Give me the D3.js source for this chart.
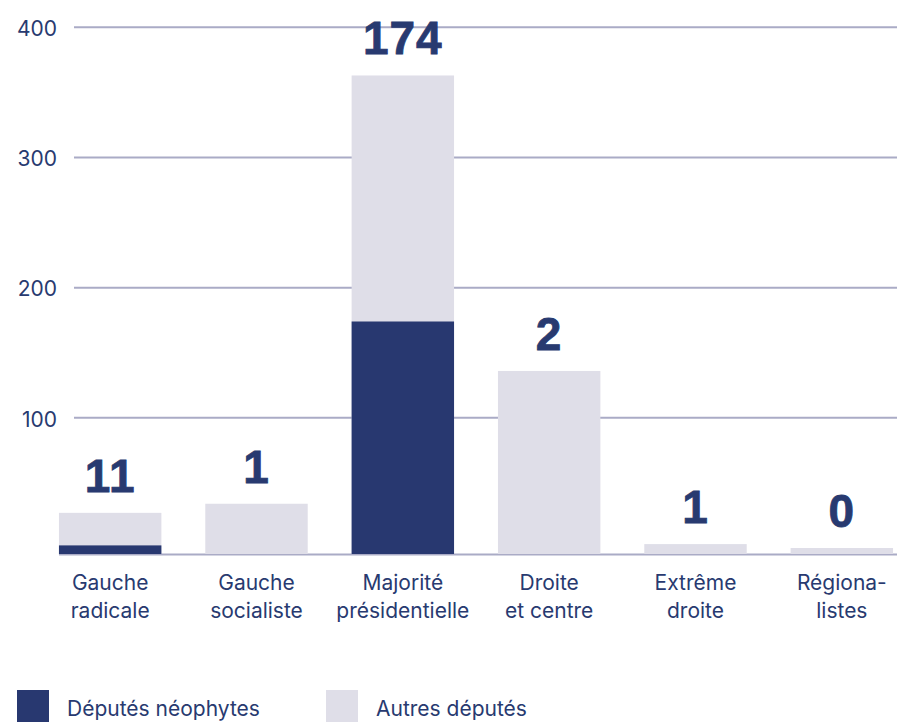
<!DOCTYPE html>
<meta charset="utf-8">
<head>
  <title>Députés néophytes par groupe</title>
</head>

<style>
body {
  margin: 0;
  background: #fff;
}
text {
  fill: #283a70;
  font-family: Inter, "Noto Sans", sans-serif;
}
.value {
  font-family: "Liberation Sans", Arial, sans-serif;
  font-weight: bold;
  stroke: #283a70;
  stroke-width: 0.8px;
  letter-spacing: 1px;
}
</style>

<body>
  <svg width="897" height="724"></svg>

  <script src="https://cdn.jsdelivr.net/npm/d3@7"></script>

  <script>
// groups, two lines each
var categories = [
  ['Gauche', 'radicale'],
  ['Gauche', 'socialiste'],
  ['Majorité', 'présidentielle'],
  ['Droite', 'et centre'],
  ['Extrême', 'droite'],
  ['Régiona-', 'listes']
];
// total height of each bar (all deputies)
var totals = [27, 34, 363, 136, 3, 0];
// dark part of the bar as drawn
var neoBar = [2, 0, 174, 0, 0, 0];
// number printed above each bar
var neoCounts = [11, 1, 174, 2, 1, 0];
var yTicks = [100, 200, 300, 400];
var legendItems = ['Députés néophytes', 'Autres députés'];

var dark = '#283870', light = '#dfdee8', grid = '#aaabc6';
var baseY = 554;

var svg = d3.select('svg');

var x = d3.scaleBand()
  .domain(d3.range(categories.length))
  .range([37, 915])
  .paddingInner(0.3)
  .paddingOuter(0.15);

var y = d3.scaleLinear().domain([0, 400]).range([548, 27.3]);

// gridlines
svg.append('g').selectAll('line')
  .data(yTicks)
  .enter().append('line')
  .attr('x1', 74).attr('x2', 897)
  .attr('y1', function(d) { return y(d); })
  .attr('y2', function(d) { return y(d); })
  .attr('stroke', grid).attr('stroke-width', 2);

svg.append('g').selectAll('text')
  .data(yTicks)
  .enter().append('text')
  .attr('x', 57)
  .attr('y', function(d) { return y(d) + 3; })
  .attr('text-anchor', 'end')
  .attr('dominant-baseline', 'middle')
  .style('font-size', '21px')
  .text(function(d) { return d; });

// baseline
svg.append('line')
  .attr('x1', x(0)).attr('x2', 897)
  .attr('y1', baseY + 0.5).attr('y2', baseY + 0.5)
  .attr('stroke', grid).attr('stroke-width', 2);

// bars: total first, then the dark part over it
var bars = svg.append('g');
bars.selectAll('rect.total')
  .data(totals)
  .enter().append('rect')
  .attr('class', 'total')
  .attr('x', function(d, i) { return x(i); })
  .attr('width', x.bandwidth())
  .attr('y', function(d) { return y(d); })
  .attr('height', function(d) { return baseY - y(d); })
  .attr('fill', light);

bars.selectAll('rect.neo')
  .data(neoBar)
  .enter().append('rect')
  .attr('class', 'neo')
  .attr('x', function(d, i) { return x(i); })
  .attr('width', x.bandwidth())
  .attr('y', function(d) { return y(d); })
  .attr('height', function(d) { return d > 0 ? baseY - y(d) : 0; })
  .attr('fill', dark);

// numbers above bars
svg.append('g').selectAll('text')
  .data(neoCounts)
  .enter().append('text')
  .attr('class', 'value')
  .attr('x', function(d, i) { return x(i) + x.bandwidth() / 2; })
  .attr('y', function(d, i) { return y(totals[i]) - 21; })
  .attr('text-anchor', 'middle')
  .style('font-size', '46px')
  .text(function(d) { return d; });

// category labels
var cat = svg.append('g').selectAll('text')
  .data(categories)
  .enter().append('text')
  .attr('text-anchor', 'middle')
  .style('font-size', '21px')
  .attr('transform', function(d, i) {
    return 'translate(' + (x(i) + x.bandwidth() / 2) + ',590)';
  });
cat.append('tspan').attr('x', 0).attr('y', 0).text(function(d) { return d[0]; });
cat.append('tspan').attr('x', 0).attr('y', 28).text(function(d) { return d[1]; });

// legend
var legend = svg.append('g').selectAll('g')
  .data(legendItems)
  .enter().append('g')
  .attr('transform', function(d, i) { return 'translate(' + (17 + i * 309) + ',690)'; });
legend.append('rect')
  .attr('width', 32).attr('height', 32)
  .attr('fill', function(d, i) { return i === 0 ? dark : light; });
legend.append('text')
  .attr('x', 50).attr('y', 26)
  .style('font-size', '21px')
  .text(function(d) { return d; });
  </script>
</body>
</html>
